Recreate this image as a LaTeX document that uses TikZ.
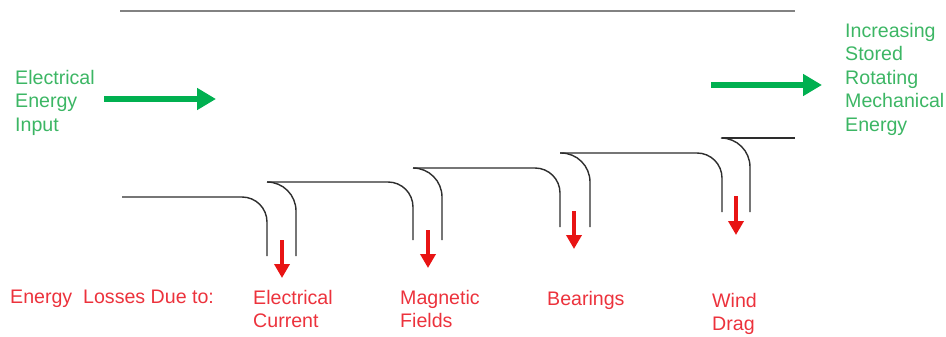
\documentclass[tikz,border=0pt]{standalone}
\usepackage{fontspec}
\setmainfont{Liberation Sans}
\usetikzlibrary{arrows.meta}
\definecolor{flowgreen}{RGB}{0,176,80}
\definecolor{labelgreen}{RGB}{60,182,100}
\definecolor{lossred}{RGB}{232,20,20}
\definecolor{labelred}{RGB}{236,50,60}
\definecolor{rimgray}{RGB}{130,130,130}
\definecolor{stepgray}{RGB}{45,45,45}
\begin{document}
\begin{tikzpicture}[x=1pt,y=-1pt,
  every node/.style={inner sep=0pt, font=\fontsize{19.6}{23.5}\selectfont, align=left, anchor=north west},
  greenlabel/.style={text=labelgreen},
  redlabel/.style={text=labelred},
  flow/.style={draw=flowgreen, line width=6pt, -{Triangle[length=19pt,width=21pt]}},
  loss/.style={draw=lossred, line width=3.5pt, -{Triangle[length=14pt,width=15pt]}},
  stepline/.style={draw=stepgray, line width=1.4pt},
  hookline/.style={stepline, rounded corners=29pt},
  cornerline/.style={stepline, rounded corners=25pt},
  ]
\useasboundingbox (0,0) rectangle (946,337);

% upper rim line
\coordinate (rimL) at (120,11);
\coordinate (rimR) at (795,11);
\draw[rimgray, line width=2.8pt] (rimL) -- (rimR);

% energy in and out
\node[greenlabel] (input) at (15,70) {Electrical\\Energy\\Input};
\node[greenlabel] (output) at (845,23) {Increasing\\Stored\\Rotating\\Mechanical\\Energy};
\coordinate (inA) at (104,99);  \coordinate (inB) at (216,99);
\coordinate (outA) at (711,85); \coordinate (outB) at (822,85);
\draw[flow] (inA) -- (inB);
\draw[flow] (outA) -- (outB);

% stepped energy levels
\coordinate (s0) at (122,197);
\coordinate (s1) at (267,182);
\coordinate (s2) at (413,168);
\coordinate (s3) at (560,153);
\coordinate (s4) at (722,138);
\coordinate (s5) at (795,138);

\draw[cornerline] (s0) -| (267,256);
\draw[hookline] (296,256) |- (s1);
\draw[cornerline] (s1) -| (413,240);
\draw[hookline] (442,240) |- (s2);
\draw[cornerline] (s2) -| (560,227);
\draw[hookline] (590,227) |- (s3);
\draw[cornerline] (s3) -| (722,212);
\draw[hookline] (750,212) |- (s4);
\draw[stepline] (s4) -- (s5);

% losses
\coordinate (l1a) at (282,240); \coordinate (l1b) at (282,278);
\coordinate (l2a) at (428,230); \coordinate (l2b) at (428,268);
\coordinate (l3a) at (574,211); \coordinate (l3b) at (574,249);
\coordinate (l4a) at (736,196); \coordinate (l4b) at (736,235);
\draw[loss] (l1a) -- (l1b);
\draw[loss] (l2a) -- (l2b);
\draw[loss] (l3a) -- (l3b);
\draw[loss] (l4a) -- (l4b);

\node[redlabel] (lossesdue) at (10,290) {Energy\ \ Losses Due to:};
\node[redlabel] (current) at (253,290) {Electrical\\Current};
\node[redlabel] (fields) at (400,290) {Magnetic\\Fields};
\node[redlabel] (bearings) at (547,291) {Bearings};
\node[redlabel] (drag) at (712,293) {Wind\\Drag};
\end{tikzpicture}
\end{document}
